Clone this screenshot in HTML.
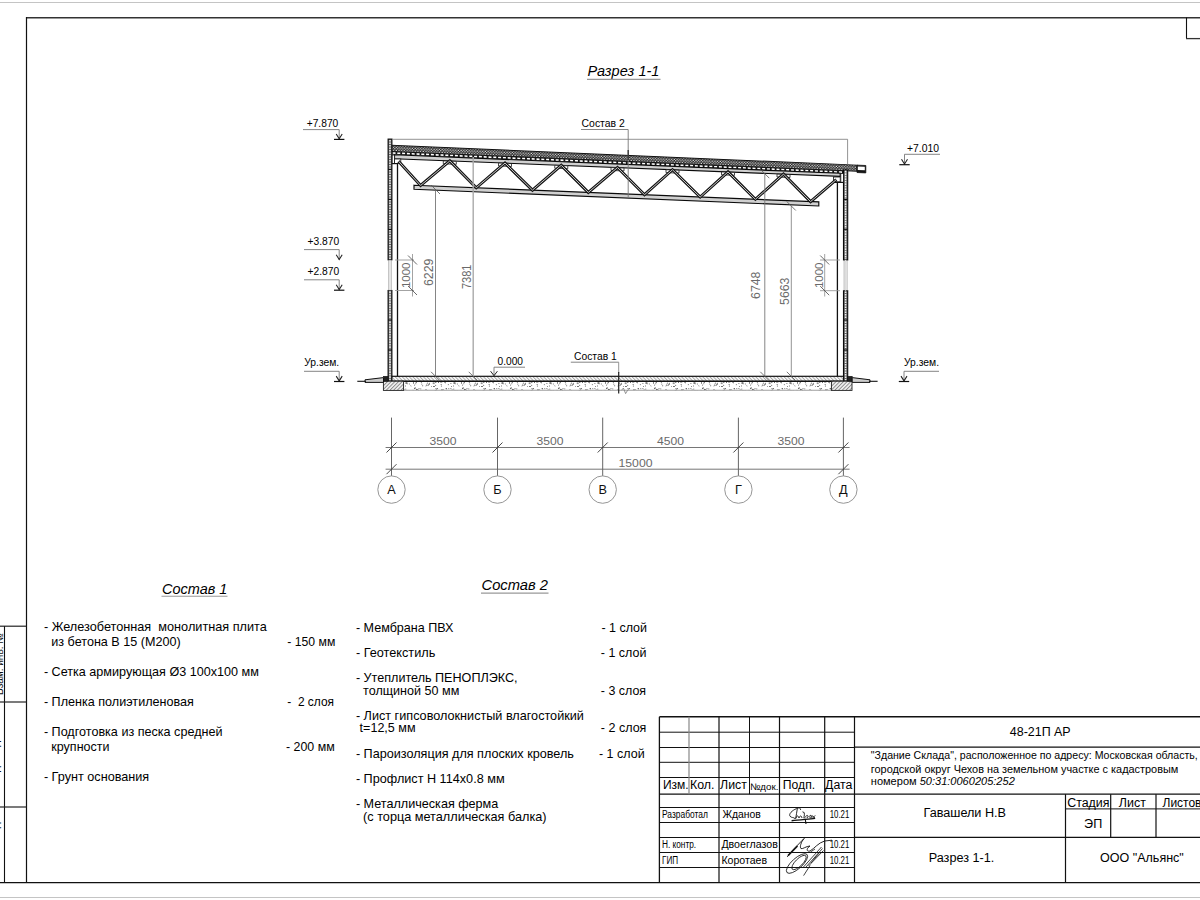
<!DOCTYPE html>
<html><head><meta charset="utf-8"><title>Разрез 1-1</title>
<style>
html,body{margin:0;padding:0;background:#fff;}
body{width:1200px;height:900px;overflow:hidden;}
svg{display:block;font-family:"Liberation Sans",sans-serif;}
text{white-space:pre;}
</style></head><body>
<svg width="1200" height="900" viewBox="0 0 1200 900">
<defs>
<pattern id="pdots" width="2.7" height="2.7" patternUnits="userSpaceOnUse"><rect width="2.7" height="2.7" fill="#161616"/><circle cx="0.7" cy="0.7" r="0.7" fill="#eee"/><circle cx="2.05" cy="2.05" r="0.7" fill="#eee"/></pattern>
<pattern id="ppanel" width="2" height="2" patternUnits="userSpaceOnUse"><rect width="2" height="2" fill="#bbb"/><rect x="0.5" y="0.5" width="1" height="1" fill="#555"/></pattern>
<pattern id="phatch" width="2.5" height="2.5" patternUnits="userSpaceOnUse" patternTransform="rotate(-45)"><rect width="2.5" height="2.5" fill="#fafafa"/><line x1="0.5" y1="0" x2="0.5" y2="2.5" stroke="#888" stroke-width="0.7"/></pattern>
<pattern id="phatch2" width="2.6" height="2.6" patternUnits="userSpaceOnUse" patternTransform="rotate(45)"><rect width="2.6" height="2.6" fill="#f0f0f0"/><line x1="0.5" y1="0" x2="0.5" y2="2.6" stroke="#666" stroke-width="0.7"/></pattern>
<pattern id="psand" width="48" height="9" patternUnits="userSpaceOnUse"><rect width="48" height="9" fill="#fff"/><circle cx="21.7" cy="5.0" r="0.5" fill="#444"/><rect x="22.4" y="4.6" width="1.2" height="0.6" fill="#555" transform="rotate(5 22.4 4.6)"/><rect x="22.8" y="5.4" width="0.8" height="0.8" fill="#333"/><rect x="21.4" y="1.7" width="0.8" height="0.8" fill="#333"/><rect x="42.7" y="5.5" width="1.5" height="0.6" fill="#555" transform="rotate(-3 42.7 5.5)"/><rect x="31.4" y="5.4" width="0.8" height="0.8" fill="#333"/><rect x="0.7" y="4.7" width="0.8" height="0.8" fill="#333"/><rect x="9.1" y="2.5" width="0.8" height="0.8" fill="#333"/><circle cx="22.3" cy="4.0" r="0.5" fill="#444"/><rect x="24.9" y="5.6" width="0.8" height="0.8" fill="#333"/><rect x="31.8" y="4.2" width="0.8" height="0.8" fill="#333"/><circle cx="47.9" cy="8.4" r="0.5" fill="#444"/><rect x="34.0" y="3.1" width="0.8" height="0.8" fill="#333"/><rect x="13.9" y="1.1" width="1.5" height="0.6" fill="#555" transform="rotate(48 13.9 1.1)"/><rect x="14.0" y="1.1" width="0.8" height="0.8" fill="#333"/><circle cx="32.9" cy="2.3" r="0.5" fill="#444"/><rect x="2.5" y="3.5" width="1.5" height="0.6" fill="#555" transform="rotate(12 2.5 3.5)"/><rect x="30.2" y="6.7" width="0.8" height="0.8" fill="#333"/><circle cx="4.2" cy="3.2" r="0.5" fill="#444"/><rect x="36.4" y="1.5" width="0.8" height="0.8" fill="#333"/><rect x="4.9" y="1.1" width="1.2" height="0.6" fill="#555" transform="rotate(11 4.9 1.1)"/><circle cx="9.0" cy="4.6" r="0.5" fill="#444"/><rect x="36.9" y="3.9" width="0.8" height="0.8" fill="#333"/><rect x="19.0" y="8.3" width="0.8" height="0.8" fill="#333"/><rect x="41.5" y="8.2" width="2.2" height="0.6" fill="#555" transform="rotate(-58 41.5 8.2)"/><circle cx="10.1" cy="3.7" r="0.5" fill="#444"/><circle cx="30.8" cy="1.4" r="0.5" fill="#444"/><rect x="10.2" y="2.6" width="1.4" height="0.6" fill="#555" transform="rotate(-23 10.2 2.6)"/><rect x="18.5" y="1.2" width="0.8" height="0.8" fill="#333"/><rect x="30.6" y="0.7" width="0.8" height="0.8" fill="#333"/><rect x="29.9" y="1.6" width="2.0" height="0.6" fill="#555" transform="rotate(-43 29.9 1.6)"/><rect x="41.6" y="2.0" width="0.8" height="0.8" fill="#333"/><rect x="43.6" y="7.0" width="0.8" height="0.8" fill="#333"/><circle cx="9.1" cy="6.4" r="0.5" fill="#444"/><circle cx="9.4" cy="8.0" r="0.5" fill="#444"/><rect x="29.0" y="3.9" width="0.8" height="0.8" fill="#333"/><rect x="1.9" y="8.1" width="0.8" height="0.8" fill="#333"/><circle cx="33.8" cy="2.6" r="0.5" fill="#444"/><rect x="28.6" y="2.9" width="0.8" height="0.8" fill="#333"/><rect x="34.6" y="1.1" width="0.8" height="0.8" fill="#333"/><rect x="26.8" y="7.2" width="1.3" height="0.6" fill="#555" transform="rotate(57 26.8 7.2)"/><rect x="43.9" y="6.4" width="0.8" height="0.8" fill="#333"/><rect x="19.7" y="2.5" width="0.8" height="0.8" fill="#333"/><circle cx="13.5" cy="4.7" r="0.5" fill="#444"/><rect x="4.4" y="1.7" width="0.8" height="0.8" fill="#333"/><rect x="15.9" y="6.3" width="0.8" height="0.8" fill="#333"/><circle cx="45.4" cy="5.2" r="0.5" fill="#444"/><rect x="22.8" y="3.4" width="0.8" height="0.8" fill="#333"/><rect x="1.6" y="5.3" width="0.8" height="0.8" fill="#333"/><rect x="3.2" y="3.0" width="0.8" height="0.8" fill="#333"/><rect x="3.5" y="4.1" width="0.8" height="0.8" fill="#333"/><rect x="2.1" y="7.9" width="1.2" height="0.6" fill="#555" transform="rotate(57 2.1 7.9)"/><rect x="16.4" y="1.3" width="0.8" height="0.8" fill="#333"/><circle cx="3.7" cy="7.3" r="0.5" fill="#444"/><rect x="1.5" y="4.5" width="0.8" height="0.8" fill="#333"/><rect x="31.8" y="3.6" width="0.8" height="0.8" fill="#333"/><rect x="3.5" y="1.3" width="0.8" height="0.8" fill="#333"/><rect x="12.3" y="3.8" width="0.8" height="0.8" fill="#333"/><rect x="44.8" y="6.0" width="0.8" height="0.8" fill="#333"/><rect x="22.2" y="4.8" width="0.8" height="0.8" fill="#333"/><rect x="24.7" y="3.0" width="0.8" height="0.8" fill="#333"/><rect x="1.1" y="8.1" width="0.8" height="0.8" fill="#333"/><rect x="37.4" y="5.7" width="0.8" height="0.8" fill="#333"/><rect x="43.0" y="3.5" width="0.8" height="0.8" fill="#333"/><rect x="29.4" y="4.6" width="1.4" height="0.6" fill="#555" transform="rotate(59 29.4 4.6)"/><rect x="21.2" y="7.6" width="0.8" height="0.8" fill="#333"/><rect x="32.0" y="2.1" width="0.8" height="0.8" fill="#333"/><circle cx="38.7" cy="7.7" r="0.5" fill="#444"/><rect x="18.5" y="5.1" width="0.8" height="0.8" fill="#333"/><circle cx="6.5" cy="4.5" r="0.5" fill="#444"/></pattern>
</defs>
<rect width="1200" height="900" fill="#fff"/>
<line x1="0" y1="2.5" x2="1200" y2="2.5" stroke="#c4c4c4" stroke-width="1.2" />
<line x1="0" y1="897.5" x2="1200" y2="897.5" stroke="#c4c4c4" stroke-width="1.2" />
<line x1="26.5" y1="17.75" x2="1200" y2="17.75" stroke="#333" stroke-width="1.6" />
<line x1="26.5" y1="17" x2="26.5" y2="883" stroke="#111" stroke-width="1.2" />
<line x1="0" y1="882.6" x2="1200" y2="882.6" stroke="#111" stroke-width="1.3" />
<line x1="1186.5" y1="17.5" x2="1186.5" y2="38.6" stroke="#111" stroke-width="1.1" />
<line x1="1186" y1="38.6" x2="1200" y2="38.6" stroke="#333" stroke-width="1.3" />
<line x1="4.5" y1="626" x2="4.5" y2="883" stroke="#111" stroke-width="1.1" />
<line x1="0" y1="626.2" x2="26.5" y2="626.2" stroke="#222" stroke-width="1.2" />
<line x1="0" y1="702" x2="26.5" y2="702" stroke="#222" stroke-width="1.2" />
<line x1="0" y1="807" x2="26.5" y2="807" stroke="#222" stroke-width="1.2" />
<text x="587.4" y="75.5" font-size="14.6" text-anchor="start" fill="#000" textLength="72" lengthAdjust="spacingAndGlyphs" font-style="italic">Разрез 1-1</text>
<line x1="587" y1="79.4" x2="660.5" y2="79.4" stroke="#999" stroke-width="1.2" />
<text x="306.7" y="126.7" font-size="10" text-anchor="start" fill="#000" textLength="31.6" lengthAdjust="spacingAndGlyphs" >+7.870</text>
<line x1="303" y1="129.6" x2="339.2" y2="129.6" stroke="#777" stroke-width="0.9" />
<line x1="339.2" y1="129.6" x2="339.2" y2="139.2" stroke="#777" stroke-width="0.9" />
<path d="M336.2,134.0 L339.2,138.79999999999998 L342.2,134.0" fill="none" stroke="#222" stroke-width="1.05" />
<line x1="334.0" y1="139.39999999999998" x2="344.4" y2="139.39999999999998" stroke="#111" stroke-width="1.2" />
<text x="307.6" y="244.9" font-size="10" text-anchor="start" fill="#000" textLength="31.6" lengthAdjust="spacingAndGlyphs" >+3.870</text>
<line x1="304" y1="249.6" x2="339.2" y2="249.6" stroke="#777" stroke-width="0.9" />
<line x1="339.2" y1="249.6" x2="339.2" y2="260" stroke="#777" stroke-width="0.9" />
<path d="M336.2,254.8 L339.2,259.6 L342.2,254.8" fill="none" stroke="#222" stroke-width="1.05" />
<text x="307.6" y="274.9" font-size="10" text-anchor="start" fill="#000" textLength="31.6" lengthAdjust="spacingAndGlyphs" >+2.870</text>
<line x1="304" y1="279.8" x2="339.2" y2="279.8" stroke="#777" stroke-width="0.9" />
<line x1="339.2" y1="279.8" x2="339.2" y2="290" stroke="#777" stroke-width="0.9" />
<path d="M336.2,284.8 L339.2,289.6 L342.2,284.8" fill="none" stroke="#222" stroke-width="1.05" />
<line x1="334.0" y1="290.2" x2="344.4" y2="290.2" stroke="#111" stroke-width="1.2" />
<text x="304.2" y="365.7" font-size="10" text-anchor="start" fill="#000" textLength="35" lengthAdjust="spacingAndGlyphs" >Ур.зем.</text>
<line x1="304" y1="371.3" x2="339.2" y2="371.3" stroke="#777" stroke-width="0.9" />
<line x1="339.2" y1="371.3" x2="339.2" y2="381.3" stroke="#777" stroke-width="0.9" />
<path d="M336.2,376.1 L339.2,380.90000000000003 L342.2,376.1" fill="none" stroke="#222" stroke-width="1.05" />
<line x1="334.0" y1="381.5" x2="344.4" y2="381.5" stroke="#111" stroke-width="1.2" />
<text x="907" y="151.5" font-size="10" text-anchor="start" fill="#000" textLength="32" lengthAdjust="spacingAndGlyphs" >+7.010</text>
<line x1="904.5" y1="154.3" x2="940" y2="154.3" stroke="#777" stroke-width="0.9" />
<line x1="904.5" y1="154.3" x2="904.5" y2="164.5" stroke="#777" stroke-width="0.9" />
<path d="M901.5,159.3 L904.5,164.1 L907.5,159.3" fill="none" stroke="#222" stroke-width="1.05" />
<line x1="899.3" y1="164.7" x2="909.7" y2="164.7" stroke="#111" stroke-width="1.2" />
<text x="904" y="365.8" font-size="10" text-anchor="start" fill="#000" textLength="35" lengthAdjust="spacingAndGlyphs" >Ур.зем.</text>
<line x1="904" y1="371.3" x2="939" y2="371.3" stroke="#777" stroke-width="0.9" />
<line x1="904" y1="371.3" x2="904" y2="381.3" stroke="#777" stroke-width="0.9" />
<path d="M901.0,376.1 L904,380.90000000000003 L907.0,376.1" fill="none" stroke="#222" stroke-width="1.05" />
<line x1="898.8" y1="381.5" x2="909.2" y2="381.5" stroke="#111" stroke-width="1.2" />
<g transform="translate(391.5,145.3) skewY(2.4393)">
<rect x="0" y="0" width="465.5" height="6.1" fill="url(#pdots)" stroke="#111" stroke-width="1.0" />
<rect x="0.3" y="6.1" width="451.7" height="3.1" fill="#151515" stroke="none" stroke-width="0" />
<line x1="1" y1="7.65" x2="451.5" y2="7.65" stroke="#fff" stroke-width="1.6" stroke-dasharray="3,1.8"/>
<rect x="465.5" y="0" width="8.8" height="7.4" fill="#151515" stroke="#111" stroke-width="0.8" />
<rect x="466.3" y="1.3" width="7" height="3.6" fill="#fff" stroke="none" stroke-width="0" />
</g>
<polygon points="394.50,154.80 840.20,173.30 840.20,176.40 394.50,158.70" fill="#d0d0d0" stroke="#0a0a0a" stroke-width="1.15" />
<rect x="388.1" y="139.1" width="3.7999999999999545" height="120.70000000000002" fill="#666" stroke="#0a0a0a" stroke-width="1.1" />
<line x1="390.0" y1="139.9" x2="390.0" y2="259.0" stroke="#f4f4f4" stroke-width="1.5" stroke-dasharray="1.6,0.9"/>
<rect x="388.1" y="290.5" width="3.7999999999999545" height="90.5" fill="#666" stroke="#0a0a0a" stroke-width="1.1" />
<line x1="390.0" y1="291.3" x2="390.0" y2="380.2" stroke="#f4f4f4" stroke-width="1.5" stroke-dasharray="1.6,0.9"/>
<line x1="388.1" y1="169.4" x2="391.9" y2="169.4" stroke="#111" stroke-width="1.2" />
<line x1="388.1" y1="199.4" x2="391.9" y2="199.4" stroke="#111" stroke-width="1.2" />
<line x1="388.1" y1="229.4" x2="391.9" y2="229.4" stroke="#111" stroke-width="1.2" />
<line x1="388.1" y1="320" x2="391.9" y2="320" stroke="#111" stroke-width="1.2" />
<line x1="388.1" y1="350" x2="391.9" y2="350" stroke="#111" stroke-width="1.2" />
<line x1="388.70000000000005" y1="259.8" x2="388.70000000000005" y2="290.5" stroke="#999" stroke-width="0.7" />
<line x1="391.29999999999995" y1="259.8" x2="391.29999999999995" y2="290.5" stroke="#999" stroke-width="0.7" />
<line x1="390.0" y1="259.8" x2="390.0" y2="290.5" stroke="#ddd" stroke-width="1.2" />
<rect x="843.5" y="170" width="4.2000000000000455" height="90" fill="#666" stroke="#0a0a0a" stroke-width="1.1" />
<line x1="845.6" y1="170.8" x2="845.6" y2="259.2" stroke="#f4f4f4" stroke-width="1.5" stroke-dasharray="1.6,0.9"/>
<rect x="843.5" y="290.7" width="4.2000000000000455" height="90.30000000000001" fill="#666" stroke="#0a0a0a" stroke-width="1.1" />
<line x1="845.6" y1="291.5" x2="845.6" y2="380.2" stroke="#f4f4f4" stroke-width="1.5" stroke-dasharray="1.6,0.9"/>
<line x1="843.5" y1="199.4" x2="847.7" y2="199.4" stroke="#111" stroke-width="1.2" />
<line x1="843.5" y1="229.3" x2="847.7" y2="229.3" stroke="#111" stroke-width="1.2" />
<line x1="843.5" y1="320" x2="847.7" y2="320" stroke="#111" stroke-width="1.2" />
<line x1="843.5" y1="350" x2="847.7" y2="350" stroke="#111" stroke-width="1.2" />
<line x1="844.1" y1="260" x2="844.1" y2="290.7" stroke="#999" stroke-width="0.7" />
<line x1="847.1" y1="260" x2="847.1" y2="290.7" stroke="#999" stroke-width="0.7" />
<line x1="845.6" y1="260" x2="845.6" y2="290.7" stroke="#ddd" stroke-width="1.2" />
<line x1="397.5" y1="163.5" x2="397.5" y2="376.3" stroke="#111" stroke-width="1.3" />
<rect x="392.2" y="155" width="2.4" height="8.5" fill="#fff" stroke="#111" stroke-width="0.8" />
<rect x="394.6" y="159" width="6.2" height="4.5" fill="#fff" stroke="#111" stroke-width="0.8" />
<line x1="392" y1="163.6" x2="398" y2="163.6" stroke="#111" stroke-width="1.2" />
<line x1="837.4" y1="182.5" x2="837.4" y2="376.3" stroke="#111" stroke-width="1.3" />
<rect x="840.8" y="173.5" width="2.6" height="9" fill="#fff" stroke="#111" stroke-width="0.8" />
<rect x="833.4" y="177" width="6.8" height="4.8" fill="#fff" stroke="#111" stroke-width="0.8" />
<line x1="833" y1="182.4" x2="843.5" y2="182.4" stroke="#111" stroke-width="1.2" />
<line x1="392" y1="139.3" x2="847.6" y2="139.3" stroke="#777" stroke-width="0.8" />
<line x1="847.6" y1="139.3" x2="847.6" y2="164.5" stroke="#777" stroke-width="0.8" />
<polygon points="414.00,185.20 818.80,201.92 818.80,206.02 414.00,189.30" fill="#d0d0d0" stroke="#0a0a0a" stroke-width="1.15" />
<polygon points="443.30,160.90 456.30,161.40 456.30,164.30 443.30,163.80" fill="#fff" stroke="#1a1a1a" stroke-width="0.8" />
<polygon points="498.50,163.09 511.50,163.59 511.50,166.49 498.50,165.99" fill="#fff" stroke="#1a1a1a" stroke-width="0.8" />
<polygon points="554.75,165.32 567.75,165.82 567.75,168.72 554.75,168.22" fill="#fff" stroke="#1a1a1a" stroke-width="0.8" />
<polygon points="611.00,167.55 624.00,168.05 624.00,170.95 611.00,170.45" fill="#fff" stroke="#1a1a1a" stroke-width="0.8" />
<polygon points="666.00,169.74 679.00,170.24 679.00,173.14 666.00,172.64" fill="#fff" stroke="#1a1a1a" stroke-width="0.8" />
<polygon points="721.50,171.94 734.50,172.44 734.50,175.34 721.50,174.84" fill="#fff" stroke="#1a1a1a" stroke-width="0.8" />
<polygon points="777.00,174.14 790.00,174.64 790.00,177.54 777.00,177.04" fill="#fff" stroke="#1a1a1a" stroke-width="0.8" />
<path d="M398.50,161.20 L420.60,185.47 L449.80,160.90 L476.25,187.77 L505.00,163.09 L532.50,190.09 L561.25,165.32 L588.30,192.40 L617.50,167.55 L644.50,194.72 L672.50,169.74 L700.20,197.02 L728.00,171.94 L755.40,199.30 L783.50,174.14 L810.60,201.58 L836.30,179.60" fill="none" stroke="#151515" stroke-width="3.0" stroke-linejoin="miter" stroke-miterlimit="3"/>
<path d="M398.50,161.20 L420.60,185.47 L449.80,160.90 L476.25,187.77 L505.00,163.09 L532.50,190.09 L561.25,165.32 L588.30,192.40 L617.50,167.55 L644.50,194.72 L672.50,169.74 L700.20,197.02 L728.00,171.94 L755.40,199.30 L783.50,174.14 L810.60,201.58 L836.30,179.60" fill="none" stroke="#c8c8c8" stroke-width="1.0" stroke-linejoin="miter" stroke-miterlimit="3"/>
<rect x="391.9" y="376.3" width="451.6" height="4.9" fill="url(#phatch)" stroke="#111" stroke-width="1.2" />
<rect x="403.6" y="381.2" width="427.8" height="9.0" fill="url(#psand)" stroke="#888" stroke-width="0.8" />
<line x1="391.9" y1="381.3" x2="843.5" y2="381.3" stroke="#111" stroke-width="1.3" />
<rect x="383.4" y="381.2" width="20.2" height="9.2" fill="url(#phatch2)" stroke="#222" stroke-width="0.9" />
<rect x="831.4" y="381.2" width="20.6" height="9.2" fill="url(#phatch2)" stroke="#222" stroke-width="0.9" />
<rect x="383.6" y="376.3" width="4.5" height="4.9" fill="#222" stroke="#111" stroke-width="0.6" />
<rect x="847.7" y="376.3" width="4.5" height="4.9" fill="#222" stroke="#111" stroke-width="0.6" />
<polygon points="365.00,379.80 383.50,377.60 383.50,382.40 365.00,382.40" fill="#ccc" stroke="#111" stroke-width="1.0" />
<polygon points="870.00,379.80 852.20,377.60 852.20,382.40 870.00,382.40" fill="#ccc" stroke="#111" stroke-width="1.0" />
<line x1="357.3" y1="381.3" x2="366" y2="381.3" stroke="#111" stroke-width="1.1" />
<line x1="869" y1="381.3" x2="877.6" y2="381.3" stroke="#111" stroke-width="1.1" />
<line x1="435.5" y1="189.5" x2="435.5" y2="376.3" stroke="#666" stroke-width="0.8" />
<line x1="431.0" y1="185.0" x2="440.0" y2="194.0" stroke="#555" stroke-width="0.8" />
<line x1="431.0" y1="371.8" x2="440.0" y2="380.8" stroke="#555" stroke-width="0.8" />
<line x1="473.2" y1="157" x2="473.2" y2="376.3" stroke="#aaa" stroke-width="1.4" />
<line x1="468.7" y1="371.8" x2="477.7" y2="380.8" stroke="#555" stroke-width="0.8" />
<line x1="764.8" y1="173.7" x2="764.8" y2="376.3" stroke="#777" stroke-width="0.9" />
<line x1="760.3" y1="169.2" x2="769.3" y2="178.2" stroke="#555" stroke-width="0.8" />
<line x1="760.3" y1="371.8" x2="769.3" y2="380.8" stroke="#555" stroke-width="0.8" />
<line x1="791.3" y1="206" x2="791.3" y2="376.3" stroke="#888" stroke-width="0.9" />
<line x1="786.8" y1="201.5" x2="795.8" y2="210.5" stroke="#555" stroke-width="0.8" />
<line x1="786.8" y1="371.8" x2="795.8" y2="380.8" stroke="#555" stroke-width="0.8" />
<line x1="412.5" y1="254" x2="412.5" y2="296.5" stroke="#999" stroke-width="0.9" />
<line x1="395" y1="260" x2="414" y2="260" stroke="#999" stroke-width="0.9" />
<line x1="395" y1="290.5" x2="414" y2="290.5" stroke="#999" stroke-width="0.9" />
<line x1="408.0" y1="255.5" x2="417.0" y2="264.5" stroke="#444" stroke-width="0.8" />
<line x1="408.0" y1="286.0" x2="417.0" y2="295.0" stroke="#444" stroke-width="0.8" />
<line x1="824.7" y1="254" x2="824.7" y2="296.5" stroke="#999" stroke-width="0.9" />
<line x1="820" y1="260" x2="840" y2="260" stroke="#999" stroke-width="0.9" />
<line x1="820" y1="290.7" x2="840" y2="290.7" stroke="#999" stroke-width="0.9" />
<line x1="820.2" y1="255.5" x2="829.2" y2="264.5" stroke="#444" stroke-width="0.8" />
<line x1="820.2" y1="286.2" x2="829.2" y2="295.2" stroke="#444" stroke-width="0.8" />
<text transform="translate(406,275.3) rotate(-90)" x="0" y="4.12" font-size="11.5" text-anchor="middle" fill="#6a6a6a" textLength="25.5" lengthAdjust="spacingAndGlyphs">1000</text>
<text transform="translate(428.8,272.3) rotate(-90)" x="0" y="4.30" font-size="12" text-anchor="middle" fill="#6a6a6a" textLength="27.5" lengthAdjust="spacingAndGlyphs">6229</text>
<text transform="translate(466.5,276.8) rotate(-90)" x="0" y="4.30" font-size="12" text-anchor="middle" fill="#6a6a6a" textLength="24.5" lengthAdjust="spacingAndGlyphs">7381</text>
<text transform="translate(756,285.3) rotate(-90)" x="0" y="4.30" font-size="12" text-anchor="middle" fill="#6a6a6a" textLength="27.3" lengthAdjust="spacingAndGlyphs">6748</text>
<text transform="translate(784.7,291.3) rotate(-90)" x="0" y="4.30" font-size="12" text-anchor="middle" fill="#6a6a6a" textLength="27.3" lengthAdjust="spacingAndGlyphs">5663</text>
<text transform="translate(818.7,275.3) rotate(-90)" x="0" y="4.12" font-size="11.5" text-anchor="middle" fill="#6a6a6a" textLength="25.5" lengthAdjust="spacingAndGlyphs">1000</text>
<text x="497.5" y="364.5" font-size="10" text-anchor="start" fill="#000" textLength="25.5" lengthAdjust="spacingAndGlyphs" >0.000</text>
<line x1="494" y1="367.2" x2="525" y2="367.2" stroke="#777" stroke-width="0.9" />
<line x1="494" y1="367.2" x2="494" y2="376" stroke="#777" stroke-width="0.9" />
<path d="M490.6,371.2 L494,375.7 L497.4,371.2" fill="none" stroke="#222" stroke-width="1" />
<text x="574" y="360" font-size="10" text-anchor="start" fill="#000" textLength="42.7" lengthAdjust="spacingAndGlyphs" >Состав 1</text>
<line x1="570.8" y1="362.2" x2="618.7" y2="362.2" stroke="#777" stroke-width="0.9" />
<line x1="618.7" y1="362.2" x2="618.7" y2="373" stroke="#888" stroke-width="0.9" />
<line x1="618.7" y1="372" x2="618.7" y2="393.6" stroke="#222" stroke-width="1.2" />
<path d="M621.5,390.3 L623.4,388 L625.6,393.6 L627.6,390.3" fill="none" stroke="#777" stroke-width="0.8" fill="#fff"/>
<text x="581.6" y="126.6" font-size="10" text-anchor="start" fill="#000" textLength="43.2" lengthAdjust="spacingAndGlyphs" >Состав 2</text>
<line x1="581" y1="129.5" x2="628.2" y2="129.5" stroke="#777" stroke-width="0.9" />
<line x1="628.2" y1="129.5" x2="628.2" y2="197.5" stroke="#777" stroke-width="0.9" />
<line x1="628.2" y1="150" x2="628.2" y2="160" stroke="#333" stroke-width="1.3" />
<line x1="391.5" y1="417.6" x2="391.5" y2="475.9" stroke="#555" stroke-width="0.9" />
<line x1="497.5" y1="417.6" x2="497.5" y2="475.9" stroke="#555" stroke-width="0.9" />
<line x1="602.7" y1="417.6" x2="602.7" y2="475.9" stroke="#555" stroke-width="0.9" />
<line x1="738.4" y1="417.6" x2="738.4" y2="475.9" stroke="#555" stroke-width="0.9" />
<line x1="843.4" y1="417.6" x2="843.4" y2="475.9" stroke="#555" stroke-width="0.9" />
<line x1="385.6" y1="447.5" x2="849.6" y2="447.5" stroke="#666" stroke-width="0.9" />
<line x1="385.6" y1="469.2" x2="849.6" y2="469.2" stroke="#666" stroke-width="0.9" />
<line x1="386.5" y1="452.5" x2="396.5" y2="442.5" stroke="#333" stroke-width="0.9" />
<line x1="492.5" y1="452.5" x2="502.5" y2="442.5" stroke="#333" stroke-width="0.9" />
<line x1="597.7" y1="452.5" x2="607.7" y2="442.5" stroke="#333" stroke-width="0.9" />
<line x1="733.4" y1="452.5" x2="743.4" y2="442.5" stroke="#333" stroke-width="0.9" />
<line x1="838.4" y1="452.5" x2="848.4" y2="442.5" stroke="#333" stroke-width="0.9" />
<line x1="386.5" y1="474.2" x2="396.5" y2="464.2" stroke="#333" stroke-width="0.9" />
<line x1="838.4" y1="474.2" x2="848.4" y2="464.2" stroke="#333" stroke-width="0.9" />
<text x="443" y="444.8" font-size="11.5" text-anchor="middle" fill="#6a6a6a" textLength="27" lengthAdjust="spacingAndGlyphs" >3500</text>
<text x="550" y="444.8" font-size="11.5" text-anchor="middle" fill="#6a6a6a" textLength="27" lengthAdjust="spacingAndGlyphs" >3500</text>
<text x="670.5" y="444.8" font-size="11.5" text-anchor="middle" fill="#6a6a6a" textLength="27" lengthAdjust="spacingAndGlyphs" >4500</text>
<text x="791" y="444.8" font-size="11.5" text-anchor="middle" fill="#6a6a6a" textLength="27" lengthAdjust="spacingAndGlyphs" >3500</text>
<text x="635.5" y="466.5" font-size="11.5" text-anchor="middle" fill="#6a6a6a" textLength="34" lengthAdjust="spacingAndGlyphs" >15000</text>
<circle cx="391.5" cy="489.6" r="13.7" fill="#fff" stroke="#8a8a8a" stroke-width="0.9"/>
<text x="391.5" y="494.1" font-size="12.7" text-anchor="middle" fill="#111" >А</text>
<circle cx="497.5" cy="489.6" r="13.7" fill="#fff" stroke="#8a8a8a" stroke-width="0.9"/>
<text x="497.5" y="494.1" font-size="12.7" text-anchor="middle" fill="#111" >Б</text>
<circle cx="602.7" cy="489.6" r="13.7" fill="#fff" stroke="#8a8a8a" stroke-width="0.9"/>
<text x="602.7" y="494.1" font-size="12.7" text-anchor="middle" fill="#111" >В</text>
<circle cx="738.4" cy="489.6" r="13.7" fill="#fff" stroke="#8a8a8a" stroke-width="0.9"/>
<text x="738.4" y="494.1" font-size="12.7" text-anchor="middle" fill="#111" >Г</text>
<circle cx="843.4" cy="489.6" r="13.7" fill="#fff" stroke="#8a8a8a" stroke-width="0.9"/>
<text x="843.4" y="494.1" font-size="12.7" text-anchor="middle" fill="#111" >Д</text>
<text x="162" y="593.5" font-size="14" text-anchor="start" fill="#000" textLength="65.3" lengthAdjust="spacingAndGlyphs" font-style="italic">Состав 1</text>
<line x1="161.5" y1="596.3" x2="227.5" y2="596.3" stroke="#999" stroke-width="1.1" />
<text x="43.9" y="630.8" font-size="12.4" text-anchor="start" fill="#000" textLength="222.9" lengthAdjust="spacingAndGlyphs" >- Железобетонная  монолитная плита</text>
<text x="51.3" y="646" font-size="12.4" text-anchor="start" fill="#000" textLength="129.4" lengthAdjust="spacingAndGlyphs" >из бетона В 15 (М200)</text>
<text x="287.3" y="646" font-size="12.4" text-anchor="start" fill="#000" textLength="48" lengthAdjust="spacingAndGlyphs" >- 150 мм</text>
<text x="43.9" y="676.1" font-size="12.4" text-anchor="start" fill="#000" textLength="215" lengthAdjust="spacingAndGlyphs" >- Сетка армирующая Ø3 100х100 мм</text>
<text x="43.9" y="706" font-size="12.4" text-anchor="start" fill="#000" textLength="150" lengthAdjust="spacingAndGlyphs" >- Пленка полиэтиленовая</text>
<text x="287.3" y="706" font-size="12.4" text-anchor="start" fill="#000" textLength="46.7" lengthAdjust="spacingAndGlyphs" >-  2 слоя</text>
<text x="43.9" y="736.1" font-size="12.4" text-anchor="start" fill="#000" textLength="178.6" lengthAdjust="spacingAndGlyphs" >- Подготовка из песка средней</text>
<text x="51.3" y="751.3" font-size="12.4" text-anchor="start" fill="#000" textLength="58.2" lengthAdjust="spacingAndGlyphs" >крупности</text>
<text x="286" y="751.3" font-size="12.4" text-anchor="start" fill="#000" textLength="48.7" lengthAdjust="spacingAndGlyphs" >- 200 мм</text>
<text x="43.9" y="781.2" font-size="12.4" text-anchor="start" fill="#000" textLength="105.3" lengthAdjust="spacingAndGlyphs" >- Грунт основания</text>
<text x="481.5" y="590.2" font-size="14" text-anchor="start" fill="#000" textLength="66.5" lengthAdjust="spacingAndGlyphs" font-style="italic">Состав 2</text>
<line x1="481" y1="593.1" x2="548.5" y2="593.1" stroke="#999" stroke-width="1.1" />
<text x="355.9" y="632.1" font-size="12.4" text-anchor="start" fill="#000" textLength="97.6" lengthAdjust="spacingAndGlyphs" >- Мембрана ПВХ</text>
<text x="601.4" y="632.1" font-size="12.4" text-anchor="start" fill="#000" textLength="45.6" lengthAdjust="spacingAndGlyphs" >- 1 слой</text>
<text x="355.9" y="656.6" font-size="12.4" text-anchor="start" fill="#000" textLength="79.4" lengthAdjust="spacingAndGlyphs" >- Геотекстиль</text>
<text x="600.8" y="656.6" font-size="12.4" text-anchor="start" fill="#000" textLength="45.6" lengthAdjust="spacingAndGlyphs" >- 1 слой</text>
<text x="355.9" y="682" font-size="12.4" text-anchor="start" fill="#000" textLength="161.7" lengthAdjust="spacingAndGlyphs" >- Утеплитель ПЕНОПЛЭКС,</text>
<text x="363.1" y="694.8" font-size="12.4" text-anchor="start" fill="#000" textLength="96.2" lengthAdjust="spacingAndGlyphs" >толщиной 50 мм</text>
<text x="600.8" y="694.8" font-size="12.4" text-anchor="start" fill="#000" textLength="45.3" lengthAdjust="spacingAndGlyphs" >- 3 слоя</text>
<text x="355.9" y="720.2" font-size="12.4" text-anchor="start" fill="#000" textLength="228" lengthAdjust="spacingAndGlyphs" >- Лист гипсоволокнистый влагостойкий</text>
<text x="359.6" y="732.3" font-size="12.4" text-anchor="start" fill="#000" textLength="56" lengthAdjust="spacingAndGlyphs" >t=12,5 мм</text>
<text x="600.8" y="732.3" font-size="12.4" text-anchor="start" fill="#000" textLength="45.6" lengthAdjust="spacingAndGlyphs" >- 2 слоя</text>
<text x="355.9" y="757.7" font-size="12.4" text-anchor="start" fill="#000" textLength="218" lengthAdjust="spacingAndGlyphs" >- Пароизоляция для плоских кровель</text>
<text x="599" y="757.7" font-size="12.4" text-anchor="start" fill="#000" textLength="45.6" lengthAdjust="spacingAndGlyphs" >- 1 слой</text>
<text x="355.9" y="783.1" font-size="12.4" text-anchor="start" fill="#000" textLength="148.7" lengthAdjust="spacingAndGlyphs" >- Профлист Н 114х0.8 мм</text>
<text x="355.9" y="808.3" font-size="12.4" text-anchor="start" fill="#000" textLength="142.4" lengthAdjust="spacingAndGlyphs" >- Металлическая ферма</text>
<text x="363.1" y="821.3" font-size="12.4" text-anchor="start" fill="#000" textLength="183.4" lengthAdjust="spacingAndGlyphs" >(с торца металлическая балка)</text>
<line x1="659.4" y1="716.8" x2="1200" y2="716.8" stroke="#111" stroke-width="1.4" />
<line x1="659.4" y1="716.8" x2="659.4" y2="882.6" stroke="#111" stroke-width="1.3" />
<line x1="659.4" y1="732.2" x2="854.5" y2="732.2" stroke="#111" stroke-width="1.0" />
<line x1="659.4" y1="747.5" x2="854.5" y2="747.5" stroke="#111" stroke-width="1.0" />
<line x1="659.4" y1="762.3" x2="854.5" y2="762.3" stroke="#111" stroke-width="1.0" />
<line x1="659.4" y1="777.5" x2="854.5" y2="777.5" stroke="#111" stroke-width="1.0" />
<line x1="659.4" y1="794.2" x2="1200" y2="794.2" stroke="#111" stroke-width="1.3" />
<line x1="659.4" y1="807.5" x2="854.5" y2="807.5" stroke="#111" stroke-width="1.0" />
<line x1="659.4" y1="822.5" x2="854.5" y2="822.5" stroke="#111" stroke-width="1.0" />
<line x1="659.4" y1="837.5" x2="854.5" y2="837.5" stroke="#111" stroke-width="1.0" />
<line x1="659.4" y1="852.5" x2="854.5" y2="852.5" stroke="#111" stroke-width="1.0" />
<line x1="659.4" y1="867.5" x2="854.5" y2="867.5" stroke="#111" stroke-width="1.0" />
<line x1="689" y1="716.8" x2="689" y2="794.2" stroke="#888" stroke-width="1.2" />
<line x1="749.5" y1="716.8" x2="749.5" y2="794.2" stroke="#111" stroke-width="1.0" />
<line x1="719" y1="716.8" x2="719" y2="882.6" stroke="#111" stroke-width="1.2" />
<line x1="779.5" y1="716.8" x2="779.5" y2="882.6" stroke="#111" stroke-width="1.2" />
<line x1="824.7" y1="716.8" x2="824.7" y2="882.6" stroke="#111" stroke-width="1.2" />
<line x1="854.5" y1="716.8" x2="854.5" y2="882.6" stroke="#111" stroke-width="1.2" />
<line x1="854.5" y1="747.1" x2="1200" y2="747.1" stroke="#111" stroke-width="1.2" />
<line x1="854.5" y1="837.3" x2="1200" y2="837.3" stroke="#111" stroke-width="1.2" />
<line x1="1065.5" y1="808.9" x2="1200" y2="808.9" stroke="#111" stroke-width="1.0" />
<line x1="1065.5" y1="794.2" x2="1065.5" y2="882.6" stroke="#111" stroke-width="1.2" />
<line x1="1110.7" y1="794.2" x2="1110.7" y2="837.3" stroke="#111" stroke-width="1.2" />
<line x1="1156" y1="794.2" x2="1156" y2="837.3" stroke="#111" stroke-width="1.2" />
<text x="662.9" y="789.3" font-size="12" text-anchor="start" fill="#000" textLength="25.7" lengthAdjust="spacingAndGlyphs" >Изм.</text>
<text x="690" y="789.3" font-size="12" text-anchor="start" fill="#000" textLength="24.5" lengthAdjust="spacingAndGlyphs" >Кол.</text>
<text x="720.1" y="789.3" font-size="12" text-anchor="start" fill="#000" textLength="26.8" lengthAdjust="spacingAndGlyphs" >Лист</text>
<text x="749.9" y="789.8" font-size="9.5" text-anchor="start" fill="#000" textLength="28.5" lengthAdjust="spacingAndGlyphs" >№док.</text>
<text x="782.8" y="789.3" font-size="12" text-anchor="start" fill="#000" textLength="32.3" lengthAdjust="spacingAndGlyphs" >Подп.</text>
<text x="825.1" y="789.3" font-size="12" text-anchor="start" fill="#000" textLength="27.3" lengthAdjust="spacingAndGlyphs" >Дата</text>
<text x="662" y="818.1" font-size="10" text-anchor="start" fill="#000" textLength="45.9" lengthAdjust="spacingAndGlyphs" >Разработал</text>
<text x="722.4" y="818.1" font-size="11" text-anchor="start" fill="#000" textLength="38.5" lengthAdjust="spacingAndGlyphs" >Жданов</text>
<text x="829.7" y="818.1" font-size="10" text-anchor="start" fill="#000" textLength="19.6" lengthAdjust="spacingAndGlyphs" >10.21</text>
<text x="661.9" y="848.3" font-size="10" text-anchor="start" fill="#000" textLength="34.2" lengthAdjust="spacingAndGlyphs" >Н. контр.</text>
<text x="662" y="863.9" font-size="10" text-anchor="start" fill="#000" textLength="16.1" lengthAdjust="spacingAndGlyphs" >ГИП</text>
<text x="721.4" y="848.3" font-size="11" text-anchor="start" fill="#000" textLength="56.4" lengthAdjust="spacingAndGlyphs" >Двоеглазов</text>
<text x="721.4" y="863.9" font-size="11" text-anchor="start" fill="#000" textLength="45.6" lengthAdjust="spacingAndGlyphs" >Коротаев</text>
<text x="829.7" y="848.3" font-size="10" text-anchor="start" fill="#000" textLength="19.6" lengthAdjust="spacingAndGlyphs" >10.21</text>
<text x="829.7" y="863.9" font-size="10" text-anchor="start" fill="#000" textLength="19.6" lengthAdjust="spacingAndGlyphs" >10.21</text>
<text x="1009.8" y="735.6" font-size="12" text-anchor="start" fill="#000" textLength="60.9" lengthAdjust="spacingAndGlyphs" >48-21П АР</text>
<text x="870.8" y="758.7" font-size="10.5" text-anchor="start" fill="#000" textLength="327" lengthAdjust="spacingAndGlyphs" >"Здание Склада", расположенное по адресу: Московская область,</text>
<text x="870.8" y="772.9" font-size="10.5" text-anchor="start" fill="#000" textLength="307.5" lengthAdjust="spacingAndGlyphs" >городской округ Чехов на земельном участке с кадастровым</text>
<text x="870.8" y="785.3" font-size="10.5" text-anchor="start" fill="#000" textLength="144" lengthAdjust="spacingAndGlyphs" >номером <tspan font-style="italic">50:31:0060205:252</tspan></text>
<text x="923.5" y="817.2" font-size="12" text-anchor="start" fill="#000" textLength="82.5" lengthAdjust="spacingAndGlyphs" >Гавашели Н.В</text>
<text x="1067.2" y="807.3" font-size="12" text-anchor="start" fill="#000" textLength="42.3" lengthAdjust="spacingAndGlyphs" >Стадия</text>
<text x="1118.8" y="807.3" font-size="12" text-anchor="start" fill="#000" textLength="27.1" lengthAdjust="spacingAndGlyphs" >Лист</text>
<text x="1162.5" y="807.3" font-size="12" text-anchor="start" fill="#000" >Листов</text>
<text x="1084.1" y="828.3" font-size="12" text-anchor="start" fill="#000" textLength="18.1" lengthAdjust="spacingAndGlyphs" >ЭП</text>
<text x="928.7" y="862.4" font-size="12" text-anchor="start" fill="#000" textLength="65.6" lengthAdjust="spacingAndGlyphs" >Разрез 1-1.</text>
<text x="1100.1" y="862.4" font-size="12" text-anchor="start" fill="#000" textLength="83.7" lengthAdjust="spacingAndGlyphs" >ООО "Альянс"</text>
<path d="M800.5,810 C801,807.5 798,807.6 796.5,808.6 C792,810.5 788.5,814 790,816.2 C791.5,818 793.5,817 795,818.6 M797.4,808.2 C796.8,812 796.2,815.5 795.6,819 M796,818 C797,815 798.2,815.5 799,818 C800,815.5 801.2,815 802,818 M802.5,811.8 L804.2,812.6 C805,815.5 803.2,818 804.2,818.2 C806,816.5 806.8,814.2 808,816 C808.2,818 806.4,818.2 807.4,817 M809,816.6 C810,814.8 812,815 811.8,817 C811,818.4 809.2,818.2 810,816.4 M812,815.6 L815.2,818.2 M815.2,815.4 L812,818.6" fill="none" stroke="#111" stroke-width="0.9" />
<path d="M791.6,820.8 C800,819.8 808,819.2 815,818.4" fill="none" stroke="#111" stroke-width="1.4" />
<path d="M805.2,818.8 L806,824" fill="none" stroke="#111" stroke-width="1.1" />
<path d="M787.2,856.9 C792,850 798,845 802.2,840.4 L804.2,838.4 C801,842 799.5,847 801,848.6 C803,849.2 806,846.2 810,846 C806.5,848 806,852 810,851 C815,848 818,843 824.6,841 L832,840.2" fill="none" stroke="#111" stroke-width="0.9" />
<path d="M788,855.6 L797.5,846" fill="none" stroke="#111" stroke-width="1.6" />
<ellipse cx="797" cy="863.5" rx="13.5" ry="5.2" transform="rotate(-42 797 863.5)" fill="none" stroke="#111" stroke-width="0.8"/>
<ellipse cx="799" cy="862.5" rx="9.5" ry="3.6" transform="rotate(-45 799 862.5)" fill="none" stroke="#111" stroke-width="0.8"/>
<path d="M803,867.5 L821.5,847 M806,867 L822.5,848.5 M808.5,866 L823.5,850.5 M811,863 L820,852 M803.6,875.6 L810,865.5 M810.5,852 L815,849" fill="none" stroke="#111" stroke-width="0.8" />
<text transform="translate(2.5,664) rotate(-90)" x="0" y="0" font-size="10" text-anchor="middle" fill="#111" textLength="62" lengthAdjust="spacingAndGlyphs">Взам. инв. №</text>
<text transform="translate(-1.2,755) rotate(-90)" x="0" y="0" font-size="10" text-anchor="middle" fill="#111">Подп. и дата</text>
<text transform="translate(-1.2,845) rotate(-90)" x="0" y="0" font-size="10" text-anchor="middle" fill="#111">Инв. № подл.</text>
</svg>
</body></html>
